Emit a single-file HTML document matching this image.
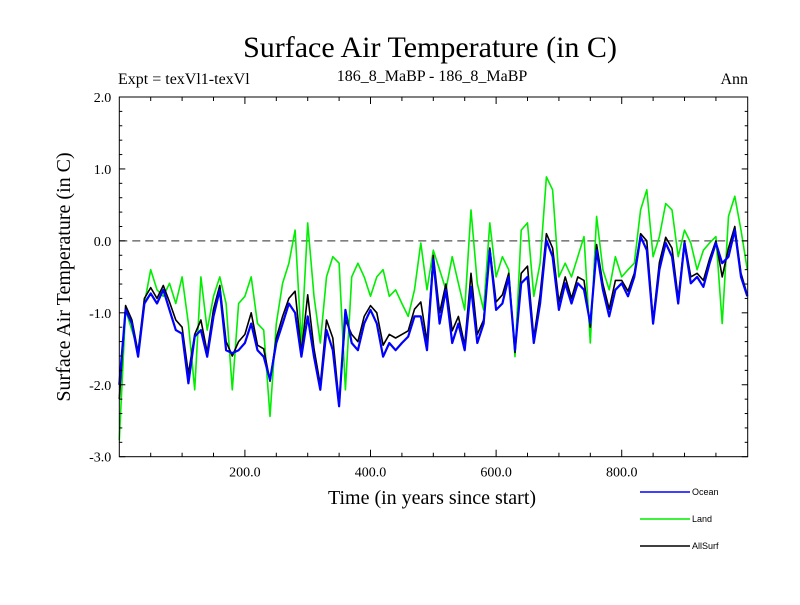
<!DOCTYPE html>
<html><head><meta charset="utf-8"><style>
body{margin:0;background:#fff;}
svg text{font-family:"Liberation Serif",serif;}
</style></head><body>
<svg id="chart" width="800" height="600" xmlns="http://www.w3.org/2000/svg">
<rect width="800" height="600" fill="#fff"/>
<text x="430" y="57" font-size="30" text-anchor="middle">Surface Air Temperature (in C)</text>
<text x="118" y="84" font-size="16">Expt = texVl1-texVl</text>
<text x="432" y="81" font-size="16" text-anchor="middle">186_8_MaBP - 186_8_MaBP</text>
<text x="748" y="84" font-size="16" text-anchor="end">Ann</text>
<text transform="translate(70,277) rotate(-90)" font-size="20" text-anchor="middle">Surface Air Temperature (in C)</text>
<text x="432" y="504" font-size="20" text-anchor="middle">Time (in years since start)</text>
<g id="plot"></g>
<g id="legend"></g>
</svg>
<script>
const years=[0,10,20,30,40,50,60,70,80,90,100,110,120,130,140,150,160,170,180,190,200,210,220,230,240,250,260,270,280,290,300,310,320,330,340,350,360,370,380,390,400,410,420,430,440,450,460,470,480,490,500,510,520,530,540,550,560,570,580,590,600,610,620,630,640,650,660,670,680,690,700,710,720,730,740,750,760,770,780,790,800,810,820,830,840,850,860,870,880,890,900,910,920,930,940,950,960,970,980,990,1000];
const ocean=[-2.0,-0.96,-1.15,-1.61,-0.87,-0.73,-0.87,-0.68,-0.96,-1.24,-1.29,-1.98,-1.33,-1.24,-1.61,-1.05,-0.68,-1.52,-1.56,-1.52,-1.42,-1.15,-1.52,-1.61,-1.93,-1.42,-1.15,-0.87,-1.0,-1.61,-1.05,-1.61,-2.07,-1.24,-1.52,-2.30,-0.96,-1.42,-1.52,-1.15,-0.96,-1.15,-1.61,-1.42,-1.52,-1.42,-1.33,-1.05,-1.05,-1.52,-0.26,-1.15,-0.68,-1.42,-1.15,-1.52,-0.64,-1.42,-1.15,-0.13,-0.96,-0.87,-0.5,-1.52,-0.59,-0.5,-1.42,-0.87,0.01,-0.22,-0.96,-0.59,-0.87,-0.59,-0.68,-1.15,-0.13,-0.68,-1.05,-0.68,-0.59,-0.77,-0.5,0.06,-0.13,-1.15,-0.4,-0.03,-0.22,-0.87,-0.03,-0.59,-0.5,-0.64,-0.31,-0.03,-0.31,-0.22,0.15,-0.5,-0.77];
const land=[-2.77,-0.96,-1.24,-1.52,-0.87,-0.4,-0.68,-0.77,-0.59,-0.87,-0.5,-1.15,-2.07,-0.5,-1.24,-0.77,-0.5,-0.87,-2.07,-0.87,-0.77,-0.5,-1.15,-1.24,-2.44,-1.15,-0.59,-0.31,0.15,-1.42,0.25,-0.77,-1.42,-0.5,-0.22,-0.31,-2.07,-0.5,-0.31,-0.5,-0.77,-0.5,-0.4,-0.77,-0.68,-0.87,-1.05,-0.68,-0.03,-0.68,-0.13,-0.4,-0.68,-0.22,-0.59,-0.96,0.43,-0.59,-0.96,0.25,-0.5,-0.22,-0.4,-1.61,0.15,0.25,-0.77,-0.31,0.89,0.71,-0.5,-0.31,-0.5,-0.22,0.06,-1.42,0.34,-0.4,-0.68,-0.22,-0.5,-0.4,-0.31,0.43,0.71,-0.22,0.06,0.52,0.43,-0.22,0.15,-0.03,-0.4,-0.13,-0.03,0.06,-1.15,0.34,0.62,0.15,-0.4];
const allsurf=[-2.2,-0.9,-1.1,-1.55,-0.8,-0.65,-0.8,-0.62,-0.85,-1.1,-1.2,-1.85,-1.3,-1.1,-1.55,-0.95,-0.62,-1.4,-1.6,-1.4,-1.3,-1.0,-1.45,-1.5,-1.95,-1.35,-1.05,-0.8,-0.7,-1.55,-0.75,-1.5,-2.0,-1.1,-1.35,-2.25,-1.1,-1.3,-1.4,-1.05,-0.9,-1.0,-1.45,-1.3,-1.35,-1.3,-1.25,-0.95,-0.85,-1.4,-0.2,-1.0,-0.6,-1.25,-1.05,-1.45,-0.45,-1.3,-1.1,-0.1,-0.85,-0.75,-0.45,-1.55,-0.45,-0.35,-1.35,-0.75,0.1,-0.1,-0.85,-0.5,-0.8,-0.5,-0.55,-1.2,-0.05,-0.6,-0.95,-0.55,-0.55,-0.7,-0.45,0.1,0.0,-1.1,-0.3,0.05,-0.1,-0.8,0.0,-0.5,-0.45,-0.55,-0.25,0.0,-0.5,-0.1,0.2,-0.45,-0.75];
const yTicks=[-3.0,-2.0,-1.0,0.0,1.0,2.0];
const yLabels=["-3.0","-2.0","-1.0","0.0","1.0","2.0"];
const xTicks=[200,400,600,800];
const xLabels=["200.0","400.0","600.0","800.0"];

const L=119.3,R=747.7,T=97,B=456.7,XMAX=1000.6,YMIN=-3,YMAX=2;
function X(v){return L+(v/XMAX)*(R-L);}
function Y(v){return B-(v-YMIN)/(YMAX-YMIN)*(B-T);}
const NS="http://www.w3.org/2000/svg";
const plot=document.getElementById('plot');
function mk(tag,attrs,parent){const e=document.createElementNS(NS,tag);for(const k in attrs)e.setAttribute(k,attrs[k]);(parent||plot).appendChild(e);return e;}

let e=mk('line',{x1:L,x2:R,y1:Y(0),y2:Y(0),stroke:'#555','stroke-dasharray':'8,5','stroke-width':1.2});



function series(vals,color,name,w){
  const d=vals.map((v,i)=>(i?'L':'M')+X(years[i]).toFixed(1)+','+Y(v).toFixed(1)).join(' ');
  const p=mk('path',{d:d,fill:'none',stroke:color,'stroke-width':w,'stroke-linejoin':'round'});
  
  
}
series(land,'#00ee00','land-line',1.6);
series(allsurf,'#000','allsurf-line',1.6);
series(ocean,'#0000ff','ocean-line',2.2);

e=mk('rect',{x:L,y:T,width:R-L,height:B-T,fill:'none',stroke:'#000','stroke-width':1});



for(let v=-3;v<=2.001;v+=0.2){
  const major=Math.abs(v-Math.round(v))<0.01;const len=major?6:3;
  mk('line',{x1:L,x2:L+len,y1:Y(v),y2:Y(v),stroke:'#000'});
  mk('line',{x1:R,x2:R-len,y1:Y(v),y2:Y(v),stroke:'#000'});
}
yTicks.forEach((v,i)=>{
  const t=mk('text',{x:L-8,y:Y(v)+5,'font-size':14,'text-anchor':'end'});t.textContent=yLabels[i];
  
  
});
for(let v=50;v<1000;v+=50){
  const len=(v%200===0)?7:4;
  mk('line',{x1:X(v),x2:X(v),y1:B,y2:B-len,stroke:'#000'});
  mk('line',{x1:X(v),x2:X(v),y1:T,y2:T+len,stroke:'#000'});
}
xTicks.forEach((v,i)=>{
  const t=mk('text',{x:X(v),y:B+20,'font-size':14,'text-anchor':'middle'});t.textContent=xLabels[i];
  
  
});

const legend=document.getElementById('legend');
[['Ocean','#0000ff',492],['Land','#00ee00',519],['AllSurf','#000',546]].forEach(([n,c,y])=>{
  const g=mk('g',{},legend);
  
  
  mk('line',{x1:640,x2:690,y1:y,y2:y,stroke:c,'stroke-width':1.5},g);
  const t=mk('text',{x:692,y:y+3,'font-size':9},g);t.style.fontFamily='"Liberation Sans",sans-serif';t.textContent=n;
});
</script>
</body></html>
